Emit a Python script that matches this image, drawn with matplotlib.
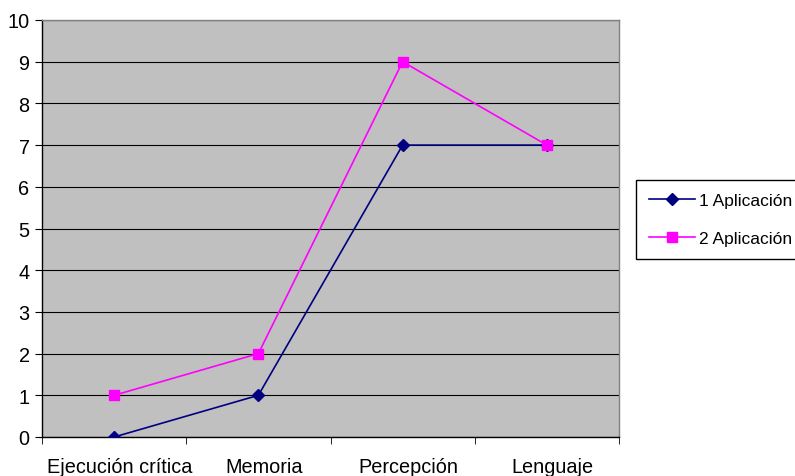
import matplotlib
matplotlib.use("Agg")
import matplotlib.pyplot as plt
import matplotlib.transforms as mtransforms
from matplotlib.ticker import FixedLocator, NullFormatter

categories = ["Ejecución crítica", "Memoria", "Percepción", "Lenguaje"]
serie1 = [0, 1, 7, 7]
serie2 = [1, 2, 9, 7]
labels = ["1 Aplicación", "2 Aplicación"]

plt.rcParams['font.family'] = ['Liberation Sans', 'DejaVu Sans']

fig = plt.figure(figsize=(7.95, 4.77), dpi=100)
ax = fig.add_axes([42/795, 1-438/477, (619-42)/795, (438-21)/477])
ax.set_facecolor('#C0C0C0')

x = list(range(len(categories)))
ax.plot(x, serie1, color='#000080', marker='D', markersize=6, linewidth=1.2, label=labels[0], zorder=3)
ax.plot(x, serie2, color='#FF00FF', marker='s', markersize=6.5, linewidth=1.2, label=labels[1], zorder=3)

ax.set_xlim(-0.5, len(categories) - 0.5)
ax.set_ylim(0, 10)
ax.set_yticks(range(0, 11))
ax.yaxis.grid(True, color='#000000', linewidth=0.8)
ax.set_axisbelow(True)

ax.set_xticks(x)
ax.set_xticklabels(categories, fontsize=14.3)
ax.tick_params(axis='x', length=0, pad=14.5)
offset = mtransforms.ScaledTranslation(6/100, 0, fig.dpi_scale_trans)
for lbl in ax.get_xticklabels():
    lbl.set_transform(lbl.get_transform() + offset)
ax.xaxis.set_minor_locator(FixedLocator([i - 0.5 for i in range(len(categories) + 1)]))
ax.xaxis.set_minor_formatter(NullFormatter())
ax.tick_params(axis='x', which='minor', length=5, direction='out', color='black')
ax.tick_params(axis='y', length=5, direction='out', labelsize=14.3, pad=4)

for s in ['left', 'bottom']:
    ax.spines[s].set_color('black')
    ax.spines[s].set_linewidth(1.0)
for s in ['top', 'right']:
    ax.spines[s].set_color('#808080')
    ax.spines[s].set_linewidth(1.0)

leg = fig.legend(loc='upper left', bbox_to_anchor=(636/795, 1-181/477), fontsize=12.5,
                 frameon=True, fancybox=False, edgecolor='black', framealpha=1,
                 borderpad=0.75, labelspacing=1.3, handlelength=2.65, handletextpad=0.25,
                 borderaxespad=0)
leg.get_frame().set_linewidth(1.0)

fig.savefig("out.png", dpi=100)
